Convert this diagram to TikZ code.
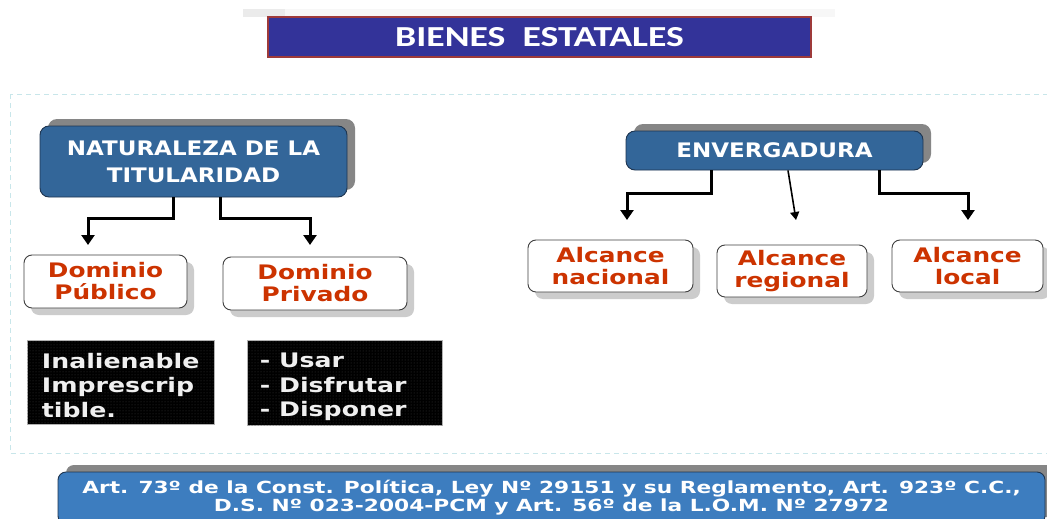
\documentclass[tikz,border=0pt]{standalone}
\usepackage{fontspec}
\usetikzlibrary{arrows.meta,shadows,patterns,calc}
\newfontfamily\fN{DejaVu Sans Bold}[FakeStretch=1.15]
\newfontfamily\fR{DejaVu Sans Bold}[FakeStretch=1.24]
\newfontfamily\fK{DejaVu Sans Bold}[FakeStretch=1.26]
\newfontfamily\fF{DejaVu Sans Bold}[FakeStretch=1.3]
\newfontfamily\fT{Carlito Bold}[FakeStretch=1.3]
\definecolor{titleblue}{HTML}{333399}
\definecolor{titleedge}{HTML}{9E3A3A}
\definecolor{boxblue}{HTML}{336699}
\definecolor{boxedge}{HTML}{1E3550}
\definecolor{footblue}{HTML}{3D7DBF}
\definecolor{redtext}{HTML}{CC3300}
\definecolor{frameline}{HTML}{C8E6EA}
\begin{document}
\begin{tikzpicture}[x=1pt,y=-1pt,
  bluebox/.style={draw=boxedge, line width=0.9pt, fill=boxblue, rounded corners=9pt,
     inner sep=0pt, align=center, text=white,
     drop shadow={shadow xshift=8pt, shadow yshift=7pt, fill=gray!95, opacity=1}},
  whitebox/.style={draw=black!75, line width=0.9pt, fill=white, rounded corners=8pt,
     inner sep=0pt, align=center, text=redtext, font=\fR\fontsize{20}{22}\selectfont,
     drop shadow={shadow xshift=7pt, shadow yshift=-7pt, fill=gray!40, opacity=1}},
  blackbox/.style={fill=black, draw=gray!60, line width=0.5pt, inner sep=0pt,
     postaction={pattern=dots, pattern color=gray!45!black}},
  blacktext/.style={anchor=north west, inner sep=0pt, text=white!88!gray,
     font=\fK\fontsize{20}{24.5}\selectfont, align=left},
  conn/.style={line width=3pt, line join=miter, -{Triangle[length=10pt,width=13pt]}},
  thinconn/.style={line width=1.6pt, -{Triangle[length=8pt,width=9pt]}}
]
\clip (0,0) rectangle (1047,519);
\fill[white] (0,0) rectangle (1047,519);
% faint bar at top
\fill[gray!6] (243,9) rectangle (835,17);
\fill[gray!16] (243,9) rectangle (285,17);
% dashed frame
\draw[frameline, line width=1pt, dash pattern=on 5pt off 4pt] (10,94) rectangle (1070,453);

% title
\node[fill=titleblue, draw=titleedge, line width=1.3pt, minimum width=543pt, minimum height=40pt,
      inner sep=0pt, text=white, font=\fT\fontsize{29}{30}\selectfont] (title) at (539.5,37) {BIENES\ \ ESTATALES};

% main boxes
\node[bluebox, minimum width=307pt, minimum height=71pt, font=\fN\fontsize{20}{27}\selectfont]
  (nat) at (193.5,161.5) {NATURALEZA DE LA\\TITULARIDAD};
\node[bluebox, minimum width=297pt, minimum height=39pt, font=\fN\fontsize{20}{24}\selectfont]
  (env) at (774.5,150.5) {ENVERGADURA};

\node[whitebox, minimum width=163pt, minimum height=53pt] (dpub) at (105.5,281.5) {Dominio\\Público};
\node[whitebox, minimum width=184pt, minimum height=53pt] (dpriv) at (315,283.5) {Dominio\\Privado};

\node[whitebox, minimum width=165pt, minimum height=52pt] (anac) at (610.5,266) {Alcance\\nacional};
\node[whitebox, minimum width=150pt, minimum height=52pt] (areg) at (792,271) {Alcance\\regional};
\node[whitebox, minimum width=151pt, minimum height=52pt] (aloc) at (967.5,266) {Alcance\\local};

% black boxes
\node[blackbox, minimum width=187pt, minimum height=84pt] (bk1) at (120.5,382) {};
\node[blackbox, minimum width=195pt, minimum height=85pt] (bk2) at (344.5,382.5) {};
\node[blacktext] (t1) at ([xshift=15pt,yshift=-13pt]bk1.north west) {Inalienable\\Imprescrip\\tible.};
\node[blacktext] (t2) at ([xshift=13pt,yshift=-13pt]bk2.north west) {- Usar\\- Disfrutar\\- Disponer};

% footer
\node[bluebox, fill=footblue, rounded corners=8pt, minimum width=987pt, minimum height=52pt,
      drop shadow={shadow xshift=10pt, shadow yshift=7pt, fill=gray!95, opacity=1},
      font=\fF\fontsize{16.7}{18}\selectfont]
  (foot) at (551.5,498) {Art. 73º de la Const. Política, Ley Nº 29151 y su Reglamento, Art. 923º C.C.,\\D.S. Nº 023-2004-PCM y Art. 56º de la L.O.M. Nº 27972};

% arrow end points
\coordinate (e1) at (88,245);
\coordinate (e2) at (310,245);
\coordinate (e3) at (627,220);
\coordinate (e4) at (796,220);
\coordinate (e5) at (968,220);

% connectors
\draw[conn] ([xshift=-20.5pt]nat.south) -- ++(0,21) -| (e1);
\draw[conn] ([xshift=26.5pt]nat.south) -- ++(0,21) -| (e2);
\draw[conn] ([xshift=-63.5pt]env.south) -- ++(0,23) -| (e3);
\draw[thinconn] ([xshift=13.5pt]env.south) -- (e4);
\draw[conn] ([xshift=104.5pt]env.south) -- ++(0,23) -| (e5);
\end{tikzpicture}
\end{document}
